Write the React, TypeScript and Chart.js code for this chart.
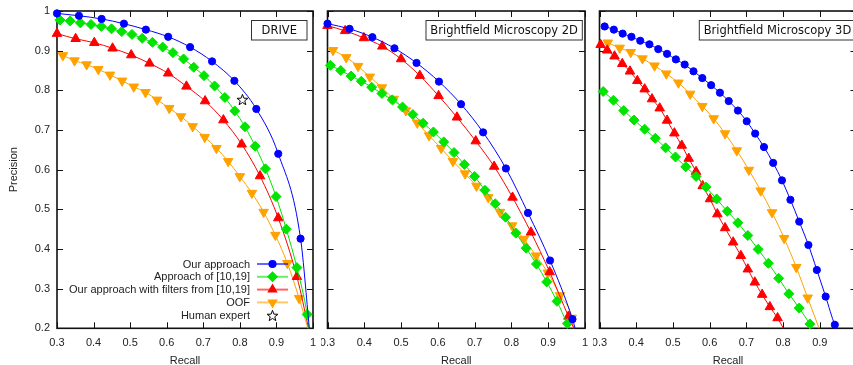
import React, { useEffect, useRef } from "react";
import { Chart, registerables } from "chart.js";
Chart.register(...registerables);

// ---------- ticks / labels ----------
const xTickValues = [0.3, 0.4, 0.5, 0.6, 0.7, 0.8, 0.9, 1.0];
const yTickValues = [0.2, 0.3, 0.4, 0.5, 0.6, 0.7, 0.8, 0.9, 1.0];
const seriesLabels = [
  "Our approach",
  "Approach of [10,19]",
  "Our approach with filters from [10,19]",
  "OOF",
];
const expertLabel = "Human expert";
const panelTitles = ["DRIVE", "Brightfield Microscopy 2D", "Brightfield Microscopy 3D"];
const xTitle = "Recall";
const yTitle = "Precision";

// ---------- DRIVE ----------
const driveOursR = [0.300, 0.360, 0.422, 0.483, 0.543, 0.604, 0.664, 0.724, 0.785, 0.845, 0.905, 0.966];
const driveOursP = [0.994, 0.988, 0.980, 0.968, 0.953, 0.935, 0.909, 0.873, 0.824, 0.753, 0.640, 0.426];
const driveOursEnd = [0.990, 0.2];
const driveRefR = [0.308, 0.336, 0.364, 0.393, 0.421, 0.449, 0.477, 0.505, 0.533, 0.561, 0.589, 0.617, 0.646, 0.674, 0.702, 0.731, 0.759, 0.786, 0.814, 0.842, 0.870, 0.899, 0.927, 0.956, 0.984];
const driveRefP = [0.977, 0.975, 0.970, 0.966, 0.961, 0.955, 0.948, 0.941, 0.931, 0.921, 0.909, 0.895, 0.879, 0.858, 0.837, 0.811, 0.782, 0.748, 0.708, 0.659, 0.602, 0.532, 0.450, 0.353, 0.235];
const driveRefEnd = [0.989, 0.2];
const driveFiltR = [0.300, 0.351, 0.402, 0.452, 0.503, 0.553, 0.604, 0.654, 0.705, 0.755, 0.805, 0.855, 0.905, 0.956];
const driveFiltP = [0.943, 0.930, 0.920, 0.906, 0.889, 0.868, 0.843, 0.810, 0.773, 0.725, 0.664, 0.584, 0.478, 0.330];
const driveFiltEnd = [0.988, 0.2];
const driveOofR = [0.316, 0.348, 0.381, 0.413, 0.445, 0.478, 0.510, 0.542, 0.574, 0.607, 0.639, 0.671, 0.704, 0.736, 0.768, 0.800, 0.833, 0.865, 0.897, 0.930, 0.962];
const driveOofP = [0.888, 0.875, 0.865, 0.853, 0.839, 0.824, 0.809, 0.795, 0.776, 0.755, 0.734, 0.709, 0.682, 0.654, 0.621, 0.583, 0.541, 0.493, 0.435, 0.364, 0.276];
const driveOofEnd = [0.986, 0.2];
const driveExpertR = [0.807];
const driveExpertP = [0.777];

// ---------- Brightfield Microscopy 2D ----------
const bf2OursR = [0.300, 0.360, 0.422, 0.482, 0.542, 0.603, 0.663, 0.723, 0.785, 0.845, 0.905, 0.966];
const bf2OursP = [0.968, 0.955, 0.934, 0.906, 0.869, 0.822, 0.765, 0.694, 0.603, 0.491, 0.371, 0.223];
const bf2OursEnd = [0.973, 0.2];
const bf2RefR = [0.308, 0.336, 0.364, 0.392, 0.420, 0.448, 0.476, 0.504, 0.532, 0.560, 0.588, 0.616, 0.644, 0.672, 0.700, 0.728, 0.756, 0.784, 0.812, 0.840, 0.868, 0.896, 0.924, 0.952];
const bf2RefP = [0.863, 0.850, 0.836, 0.823, 0.808, 0.792, 0.776, 0.758, 0.739, 0.717, 0.695, 0.670, 0.643, 0.613, 0.583, 0.548, 0.514, 0.480, 0.440, 0.402, 0.362, 0.317, 0.268, 0.212];
const bf2RefEnd = [0.960, 0.2];
const bf2FiltR = [0.300, 0.348, 0.399, 0.449, 0.500, 0.551, 0.602, 0.652, 0.703, 0.753, 0.803, 0.853, 0.904, 0.955];
const bf2FiltP = [0.963, 0.950, 0.932, 0.911, 0.879, 0.837, 0.786, 0.732, 0.672, 0.608, 0.530, 0.442, 0.342, 0.230];
const bf2FiltEnd = [0.970, 0.2];
const bf2OofR = [0.315, 0.351, 0.383, 0.415, 0.448, 0.480, 0.513, 0.544, 0.576, 0.609, 0.641, 0.674, 0.705, 0.737, 0.769, 0.802, 0.834, 0.867, 0.899, 0.932, 0.964];
const bf2OofP = [0.901, 0.883, 0.861, 0.834, 0.807, 0.778, 0.749, 0.718, 0.686, 0.654, 0.621, 0.590, 0.559, 0.530, 0.493, 0.459, 0.425, 0.383, 0.340, 0.283, 0.226];
const bf2OofEnd = [0.968, 0.2];

// ---------- Brightfield Microscopy 3D ----------
const bf3OursR = [0.314, 0.339, 0.363, 0.387, 0.411, 0.436, 0.460, 0.484, 0.508, 0.532, 0.556, 0.580, 0.604, 0.628, 0.652, 0.677, 0.701, 0.724, 0.748, 0.773, 0.797, 0.820, 0.844, 0.869, 0.892, 0.916, 0.941];
const bf3OursP = [0.961, 0.953, 0.943, 0.935, 0.925, 0.916, 0.904, 0.892, 0.878, 0.865, 0.848, 0.831, 0.813, 0.794, 0.773, 0.749, 0.722, 0.691, 0.657, 0.617, 0.573, 0.524, 0.469, 0.410, 0.347, 0.280, 0.209];
const bf3OursEnd = [0.947, 0.2];
const bf3RefR = [0.310, 0.338, 0.366, 0.394, 0.423, 0.452, 0.480, 0.507, 0.535, 0.563, 0.590, 0.619, 0.648, 0.677, 0.704, 0.732, 0.760, 0.788, 0.816, 0.844, 0.873];
const bf3RefP = [0.797, 0.775, 0.749, 0.725, 0.702, 0.679, 0.655, 0.632, 0.607, 0.583, 0.556, 0.526, 0.495, 0.466, 0.434, 0.399, 0.364, 0.326, 0.287, 0.251, 0.211];
const bf3RefEnd = [0.881, 0.2];
const bf3FiltR = [0.303, 0.321, 0.341, 0.362, 0.383, 0.403, 0.423, 0.443, 0.464, 0.484, 0.504, 0.524, 0.543, 0.563, 0.581, 0.601, 0.621, 0.642, 0.664, 0.685, 0.704, 0.723, 0.743, 0.764, 0.785];
const bf3FiltP = [0.915, 0.901, 0.886, 0.867, 0.848, 0.824, 0.803, 0.778, 0.755, 0.724, 0.692, 0.661, 0.628, 0.595, 0.559, 0.526, 0.488, 0.453, 0.417, 0.383, 0.349, 0.316, 0.285, 0.254, 0.226];
const bf3FiltEnd = [0.801, 0.2];
const bf3OofR = [0.3225, 0.355, 0.385, 0.417, 0.450, 0.482, 0.515, 0.547, 0.580, 0.611, 0.642, 0.674, 0.707, 0.739, 0.770, 0.803, 0.836, 0.867];
const bf3OofP = [0.920, 0.907, 0.896, 0.880, 0.862, 0.842, 0.819, 0.791, 0.760, 0.729, 0.691, 0.648, 0.599, 0.547, 0.492, 0.427, 0.354, 0.277];
const bf3OofEnd = [0.898, 0.2];

// ---------- styles ----------
const STYLES = [
  { color: "#0000ff", pointStyle: "circle", radius: 3.6, rotation: 0 },
  { color: "#00e400", pointStyle: "rectRot", radius: 5, rotation: 0 },
  { color: "#ff0000", pointStyle: "triangle", radius: 5.5, rotation: 0 },
  { color: "#ffa200", pointStyle: "triangle", radius: 5.5, rotation: 180 },
];
const TEXT = "#222";
const FONT = "'Liberation Sans', Arial, sans-serif";
const H = 365;
const TOP = 11;
const BOTTOM = 328.3;

type SeriesData = { r: number[]; p: number[]; end: number[] };

const PANELS = [
  {
    left: 0, width: 320, padL: 0, padR: 4, showY: true, legend: true,
    box: { x: 251.5, y: 20.5, w: 55.5, h: 19.5 },
    series: [
      { r: driveOursR, p: driveOursP, end: driveOursEnd },
      { r: driveRefR, p: driveRefP, end: driveRefEnd },
      { r: driveFiltR, p: driveFiltP, end: driveFiltEnd },
      { r: driveOofR, p: driveOofP, end: driveOofEnd },
    ] as SeriesData[],
    expert: { r: driveExpertR, p: driveExpertP },
  },
  {
    left: 321, width: 271, padL: 5, padR: 7, showY: false, legend: false,
    box: { x: 105, y: 20.5, w: 156.3, h: 19.5 },
    series: [
      { r: bf2OursR, p: bf2OursP, end: bf2OursEnd },
      { r: bf2RefR, p: bf2RefP, end: bf2RefEnd },
      { r: bf2FiltR, p: bf2FiltP, end: bf2FiltEnd },
      { r: bf2OofR, p: bf2OofP, end: bf2OofEnd },
    ] as SeriesData[],
    expert: null,
  },
  {
    left: 593, width: 270, padL: 6, padR: 4, showY: false, legend: false,
    box: { x: 106.3, y: 20.5, w: 156.3, h: 19.5 },
    series: [
      { r: bf3OursR, p: bf3OursP, end: bf3OursEnd },
      { r: bf3RefR, p: bf3RefP, end: bf3RefEnd },
      { r: bf3FiltR, p: bf3FiltP, end: bf3FiltEnd },
      { r: bf3OofR, p: bf3OofP, end: bf3OofEnd },
    ] as SeriesData[],
    expert: null,
  },
];

function makeStar(size: number) {
  const c = document.createElement("canvas");
  c.width = size;
  c.height = size;
  const g = c.getContext("2d")!;
  const cx = size / 2, cy = size / 2 + 0.6;
  const R = size / 2 - 0.8, r = R * 0.42;
  g.beginPath();
  for (let i = 0; i < 10; i++) {
    const a = -Math.PI / 2 + (i * Math.PI) / 5;
    const rad = i % 2 ? r : R;
    const px = cx + Math.cos(a) * rad, py = cy + Math.sin(a) * rad;
    if (i === 0) g.moveTo(px, py);
    else g.lineTo(px, py);
  }
  g.closePath();
  g.strokeStyle = "#000";
  g.lineWidth = 1;
  g.stroke();
  return c;
}

function drawMarker(ctx: CanvasRenderingContext2D, idx: number, x: number, y: number) {
  const s = STYLES[idx];
  ctx.fillStyle = s.color;
  ctx.beginPath();
  if (s.pointStyle === "circle") {
    ctx.arc(x, y, s.radius + 0.5, 0, Math.PI * 2);
  } else if (s.pointStyle === "rectRot") {
    const r = s.radius + 0.5;
    ctx.moveTo(x - r, y); ctx.lineTo(x, y - r); ctx.lineTo(x + r, y); ctx.lineTo(x, y + r);
  } else {
    const r = s.radius + 0.5;
    const sg = s.rotation ? -1 : 1;
    ctx.moveTo(x, y - sg * r);
    ctx.lineTo(x + r * 0.866, y + sg * r * 0.5);
    ctx.lineTo(x - r * 0.866, y + sg * r * 0.5);
  }
  ctx.closePath();
  ctx.fill();
}

function fmt(v: number) {
  return String(Math.round(v * 10) / 10);
}

function buildConfig(pi: number, star: HTMLCanvasElement): any {
  const P = PANELS[pi];
  const datasets: any[] = P.series.map((s, i) => {
    const st = STYLES[i];
    const pts = s.r.map((r, k) => ({ x: r, y: s.p[k] }));
    pts.push({ x: s.end[0], y: s.end[1] });
    const radii = s.r.map(() => st.radius);
    radii.push(0);
    return {
      label: seriesLabels[i],
      data: pts,
      showLine: true,
      borderColor: st.color,
      backgroundColor: st.color,
      borderWidth: 1,
      pointStyle: st.pointStyle,
      pointRotation: st.rotation,
      pointRadius: radii,
      pointBorderWidth: 1,
      pointBorderColor: st.color,
      pointBackgroundColor: st.color,
      cubicInterpolationMode: "monotone",
      clip: false,
    };
  });
  if (P.expert) {
    datasets.push({
      label: expertLabel,
      data: P.expert.r.map((r, k) => ({ x: r, y: P.expert!.p[k] })),
      showLine: false,
      pointStyle: star,
      pointRadius: 6,
      clip: false,
    });
  }

  const framePlugin = {
    id: "frame" + pi,
    beforeDatasetsDraw(chart: any) {
      const { ctx, chartArea: a, scales } = chart;
      const xs = scales.x, ys = scales.y;
      ctx.save();
      ctx.strokeStyle = "#111";
      ctx.lineWidth = 1;
      const L = 6;
      ctx.beginPath();
      xTickValues.forEach((v) => {
        const px = Math.round(xs.getPixelForValue(v)) + 0.5;
        ctx.moveTo(px, a.bottom); ctx.lineTo(px, a.bottom - L);
        ctx.moveTo(px, a.top); ctx.lineTo(px, a.top + L);
      });
      yTickValues.forEach((v) => {
        const py = Math.round(ys.getPixelForValue(v)) + 0.5;
        ctx.moveTo(a.left, py); ctx.lineTo(a.left + L, py);
        ctx.moveTo(a.right, py); ctx.lineTo(a.right - L, py);
      });
      ctx.stroke();
      ctx.lineWidth = 1.6;
      ctx.strokeRect(a.left, a.top, a.right - a.left, a.bottom - a.top);
      ctx.restore();
    },
    afterDraw(chart: any) {
      const ctx = chart.ctx;
      ctx.save();
      // title box
      const b = P.box;
      ctx.fillStyle = "#fff";
      ctx.fillRect(b.x, b.y, b.w, b.h);
      ctx.strokeStyle = "#333";
      ctx.lineWidth = 1;
      ctx.strokeRect(b.x, b.y, b.w, b.h);
      ctx.fillStyle = "#111";
      ctx.font = "11.5px 'DejaVu Sans', Verdana, sans-serif";
      ctx.textAlign = "center";
      ctx.textBaseline = "middle";
      ctx.fillText(panelTitles[pi], b.x + b.w / 2, b.y + b.h / 2 + 0.5);
      // legend
      if (P.legend) {
        const rows = [264, 276.8, 289.6, 302.4, 315.4];
        const tx = 250, l0 = 257, l1 = 288, mx = 272.5;
        ctx.font = "11px " + FONT;
        ctx.textAlign = "right";
        ctx.textBaseline = "middle";
        const dsList = chart.data.datasets;
        dsList.forEach((ds: any, i: number) => {
          const y = rows[i];
          ctx.fillStyle = TEXT;
          ctx.fillText(ds.label, tx, y + 0.5);
          if (i < 4) {
            ctx.save();
            ctx.globalAlpha = 0.6;
            ctx.strokeStyle = STYLES[i].color;
            ctx.lineWidth = 2;
            ctx.beginPath();
            ctx.moveTo(l0, y); ctx.lineTo(l1, y);
            ctx.stroke();
            ctx.restore();
            drawMarker(ctx, i, mx, y);
          } else {
            ctx.drawImage(star, mx - star.width / 2, y - star.height / 2);
          }
        });
      }
      ctx.restore();
    },
  };

  return {
    type: "scatter",
    data: { datasets },
    options: {
      animation: false,
      responsive: false,
      events: [],
      layout: { padding: { left: P.padL, right: P.padR, top: TOP, bottom: 0 } },
      plugins: { legend: { display: false }, tooltip: { enabled: false } },
      scales: {
        x: {
          type: "linear",
          min: 0.3,
          max: 1,
          afterBuildTicks: (s: any) => { s.ticks = xTickValues.map((v) => ({ value: v })); },
          ticks: { padding: 8, color: TEXT, font: { size: 11, family: FONT }, maxRotation: 0, autoSkip: false, callback: (v: any) => fmt(v) },
          grid: { display: false, drawTicks: false },
          border: { display: false },
          title: { display: true, text: xTitle, color: TEXT, font: { size: 11, family: FONT }, padding: { top: 0, bottom: -3 } },
          afterFit: (s: any) => { s.height = H - BOTTOM; s.paddingLeft = 0; s.paddingRight = 0; },
        },
        y: {
          type: "linear",
          min: 0.2,
          max: 1,
          display: P.showY,
          afterBuildTicks: (s: any) => { s.ticks = yTickValues.map((v) => ({ value: v })); },
          ticks: { padding: 7, color: TEXT, font: { size: 11, family: FONT }, callback: (v: any) => fmt(v) },
          grid: { display: false, drawTicks: false },
          border: { display: false },
          title: { display: true, text: yTitle, color: TEXT, font: { size: 11, family: FONT }, padding: { top: 7.5, bottom: 0 } },
          afterFit: (s: any) => { s.width = P.showY ? 57 : 0; s.paddingTop = 0; s.paddingBottom = 0; },
        },
      },
    },
    plugins: [framePlugin],
  };
}

function Panel({ index }: { index: number }) {
  const ref = useRef<HTMLCanvasElement | null>(null);
  const P = PANELS[index];
  useEffect(() => {
    const star = makeStar(13);
    const chart = new Chart(ref.current!, buildConfig(index, star));
    return () => chart.destroy();
  }, [index]);
  return (
    <canvas
      ref={ref}
      width={P.width}
      height={H}
      style={{ position: "absolute", left: P.left, top: 0, width: P.width, height: H }}
    />
  );
}

export default function App() {
  return (
    <div style={{ position: "fixed", left: 0, top: 0, width: 853, height: H, overflow: "hidden", background: "#fff" }}>
      <Panel index={0} />
      <Panel index={1} />
      <Panel index={2} />
    </div>
  );
}
